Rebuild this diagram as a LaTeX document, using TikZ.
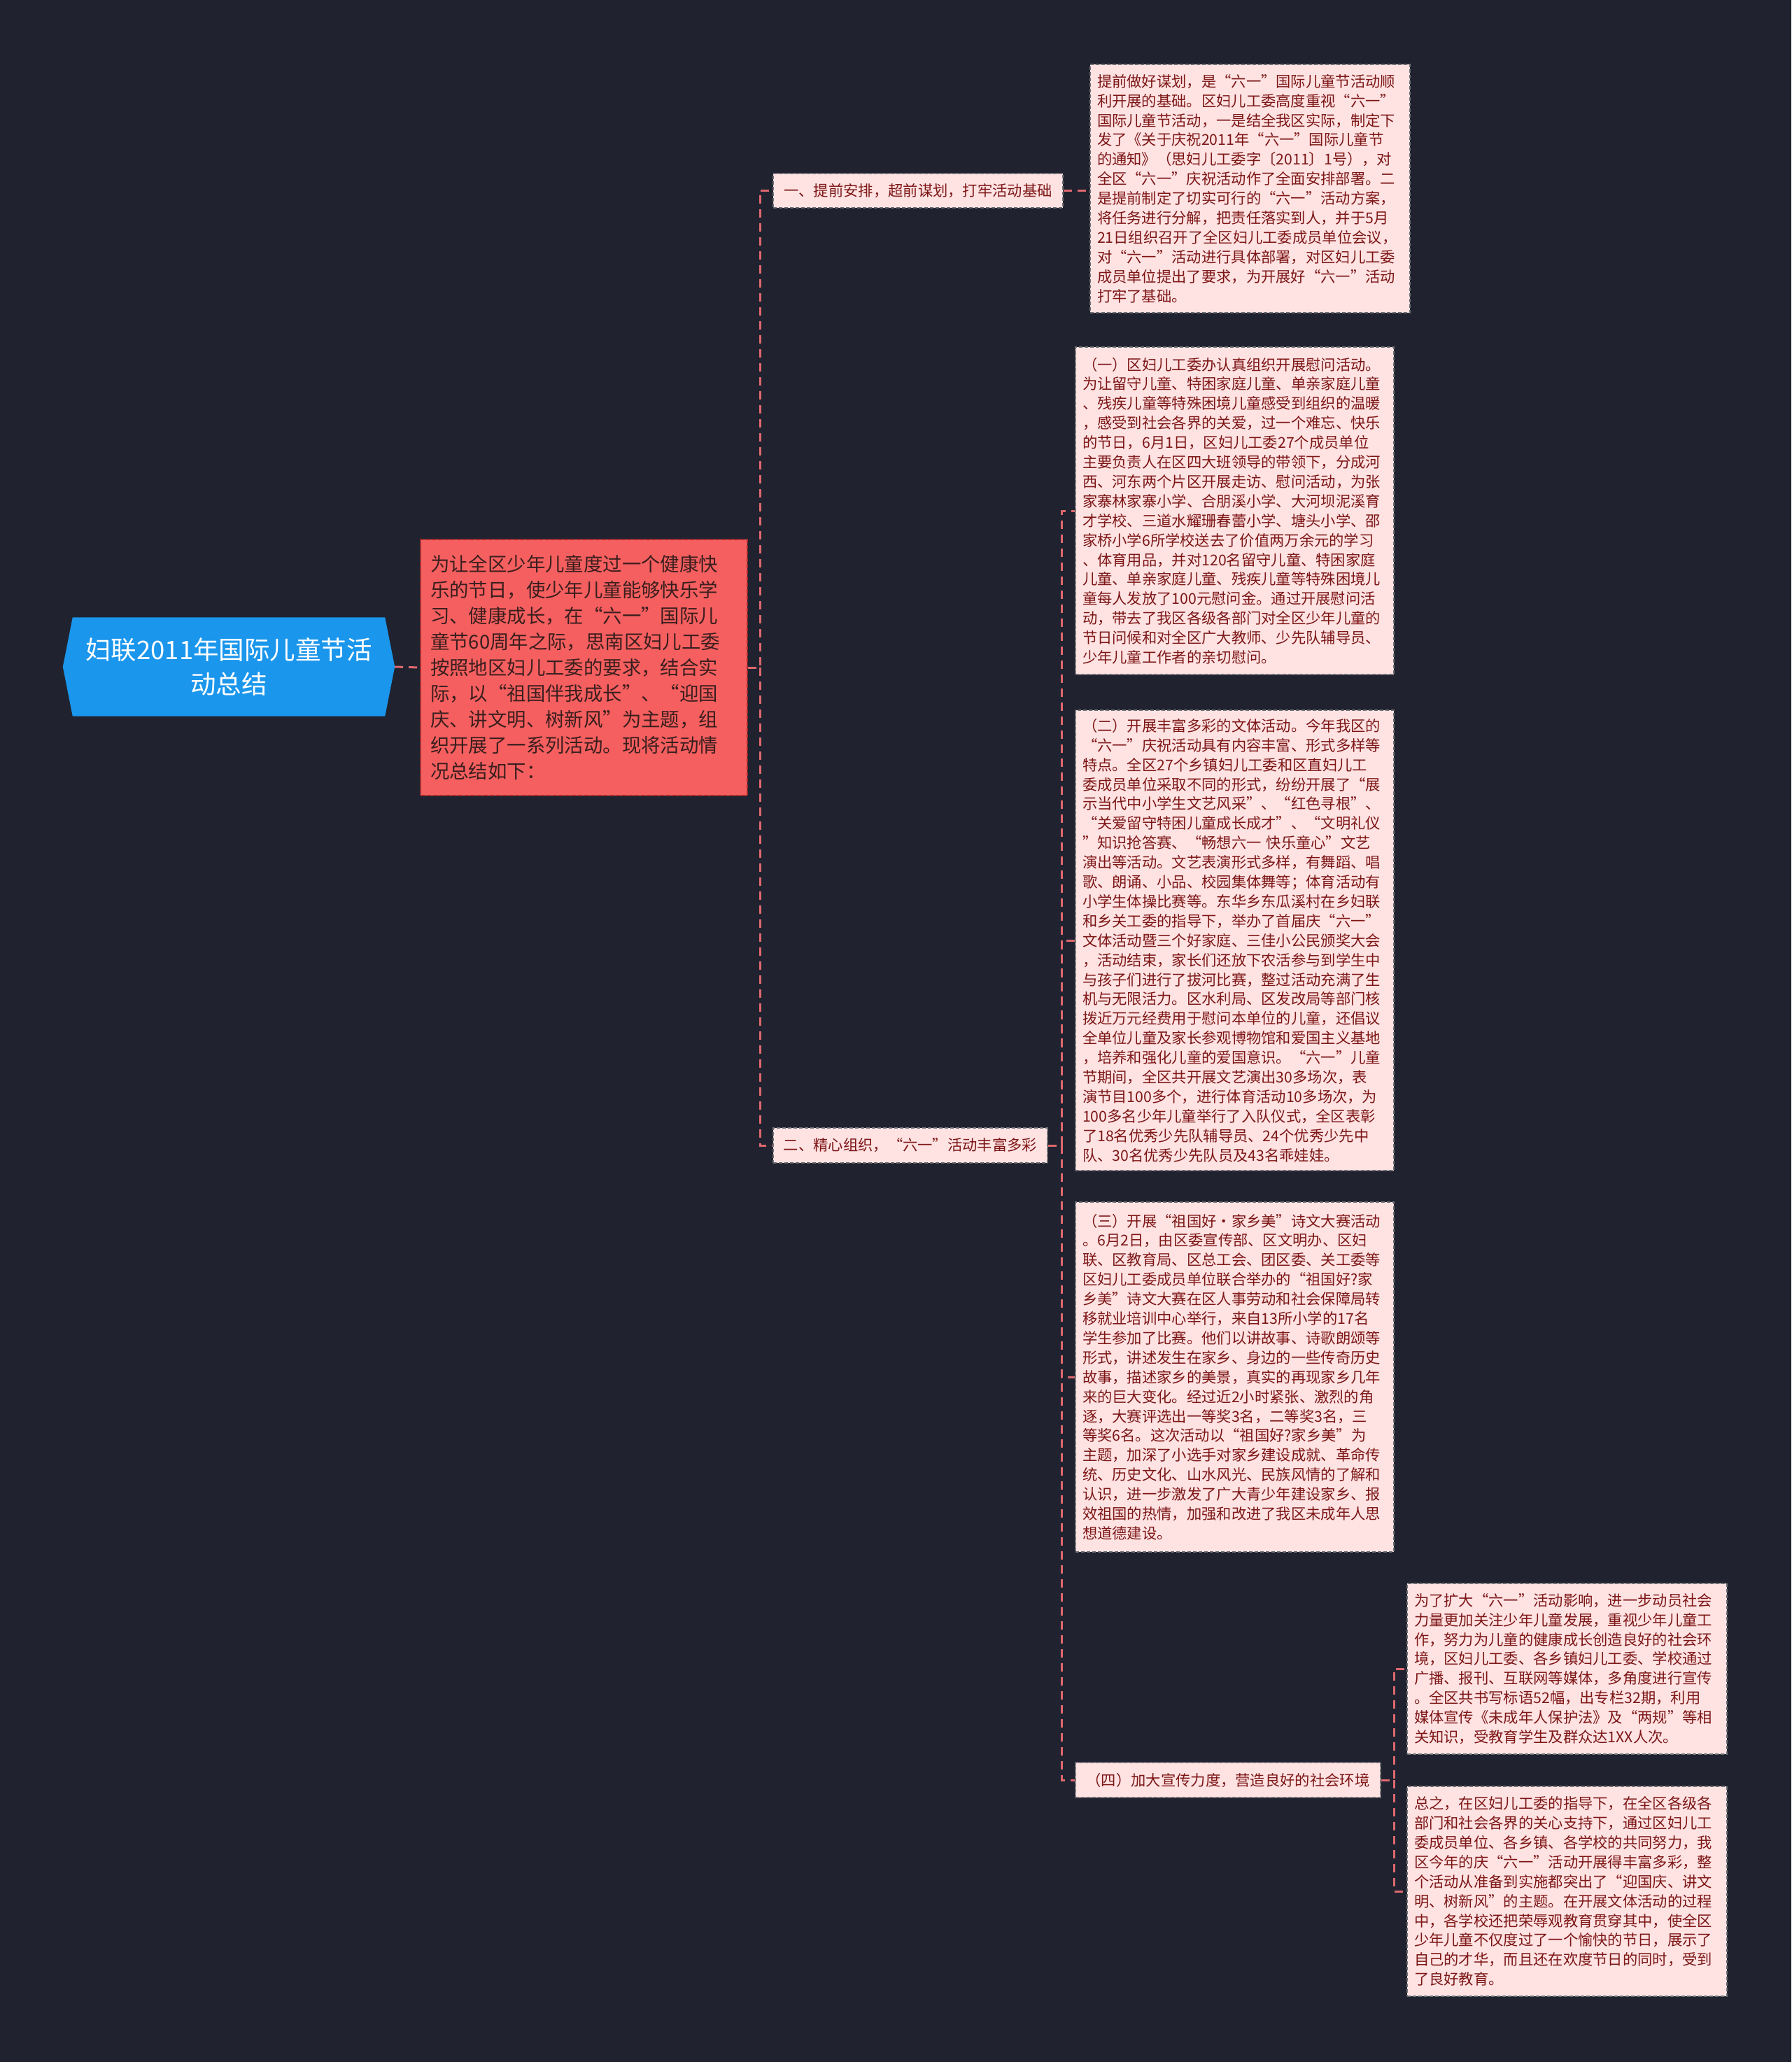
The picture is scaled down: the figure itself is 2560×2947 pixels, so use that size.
\documentclass[tikz,border=0pt]{standalone}
\usepackage{fontspec}
\setmainfont{Noto Sans CJK SC}
\usetikzlibrary{backgrounds,calc}
\definecolor{bgc}{RGB}{32,35,47}
\definecolor{pinkfill}{RGB}{255,227,227}
\definecolor{pinktext}{RGB}{125,22,22}
\definecolor{redfill}{RGB}{245,95,95}
\definecolor{redborder}{RGB}{170,40,40}
\definecolor{redtext}{RGB}{58,30,30}
\definecolor{rootblue}{RGB}{26,150,236}
\definecolor{linec}{RGB}{222,104,110}
\definecolor{boxborder}{RGB}{110,110,115}
\begin{document}
\begin{tikzpicture}[x=1pt,y=-1pt,
  conn/.style={draw=linec, line width=3pt, dash pattern=on 12pt off 8pt},
  pbox/.style={rectangle, fill=pinkfill, draw=boxborder, line width=1.6pt, dash pattern=on 5pt off 3pt,
    text=pinktext, align=left, inner xsep=10pt, inner ysep=6pt,
    font=\fontsize{21.3pt}{27.9pt}\selectfont},
  lbox/.style={pbox, align=center},
  redbox/.style={rectangle, fill=redfill, draw=redborder, line width=1.8pt, dash pattern=on 6pt off 3pt,
    text=redtext, align=left, inner xsep=14pt, inner ysep=8pt,
    font=\fontsize{27.4pt}{37.1pt}\selectfont},
  rootbox/.style={rectangle, text=white, align=center, inner sep=0pt,
    font=\fontsize{36.5pt}{49pt}\selectfont}
]
\useasboundingbox (0,0) rectangle (2560,2947);
\begin{scope}[on background layer]
\fill[bgc] (0,0) rectangle (2560,2947);
\end{scope}

% root
\node[rootbox, minimum width=474pt, minimum height=141pt, text width=440pt] (root) at (327,953)
  {妇联2011年国际儿童节活\\动总结};
\begin{scope}[on background layer]
\fill[rootblue] (root.west) -- ($(root.north west)+(14,0)$) -- ($(root.north east)+(-14,0)$)
  -- (root.east) -- ($(root.south east)+(-14,0)$) -- ($(root.south west)+(14,0)$) -- cycle;
\end{scope}

% red summary node
\node[redbox, minimum width=467pt, minimum height=366pt, text width=439pt] (red) at (834.5,954)
{为让全区少年儿童度过一个健康快\\
乐的节日，使少年儿童能够快乐学\\
习、健康成长，在“六一”国际儿\\
童节60周年之际，思南区妇儿工委\\
按照地区妇儿工委的要求，结合实\\
际，以“祖国伴我成长”、“迎国\\
庆、讲文明、树新风”为主题，组\\
织开展了一系列活动。现将活动情\\
况总结如下：};

% level 1
\node[lbox, minimum width=414pt, minimum height=49pt, text width=394pt] (n1) at (1312,272.5)
  {一、提前安排，超前谋划，打牢活动基础};
\node[lbox, minimum width=392pt, minimum height=50pt, text width=372pt] (n2) at (1301,1637)
  {二、精心组织，“六一”活动丰富多彩};

% T1
\node[pbox, minimum width=457pt, minimum height=355pt, text width=437pt] (t1) at (1786.5,269.5)
{提前做好谋划，是“六一”国际儿童节活动顺\\
利开展的基础。区妇儿工委高度重视“六一”\\
国际儿童节活动，一是结全我区实际，制定下\\
发了《关于庆祝2011年“六一”国际儿童节\\
的通知》（思妇儿工委字〔2011〕1号），对\\
全区“六一”庆祝活动作了全面安排部署。二\\
是提前制定了切实可行的“六一”活动方案，\\
将任务进行分解，把责任落实到人，并于5月\\
21日组织召开了全区妇儿工委成员单位会议，\\
对“六一”活动进行具体部署，对区妇儿工委\\
成员单位提出了要求，为开展好“六一”活动\\
打牢了基础。};

% B1
\node[pbox, minimum width=455pt, minimum height=468pt, text width=435pt] (b1) at (1764.5,730)
{（一）区妇儿工委办认真组织开展慰问活动。\\
为让留守儿童、特困家庭儿童、单亲家庭儿童\\
、残疾儿童等特殊困境儿童感受到组织的温暖\\
，感受到社会各界的关爱，过一个难忘、快乐\\
的节日，6月1日，区妇儿工委27个成员单位\\
主要负责人在区四大班领导的带领下，分成河\\
西、河东两个片区开展走访、慰问活动，为张\\
家寨林家寨小学、合朋溪小学、大河坝泥溪育\\
才学校、三道水耀珊春蕾小学、塘头小学、邵\\
家桥小学6所学校送去了价值两万余元的学习\\
、体育用品，并对120名留守儿童、特困家庭\\
儿童、单亲家庭儿童、残疾儿童等特殊困境儿\\
童每人发放了100元慰问金。通过开展慰问活\\
动，带去了我区各级各部门对全区少年儿童的\\
节日问候和对全区广大教师、少先队辅导员、\\
少年儿童工作者的亲切慰问。};

% B2
\node[pbox, minimum width=455pt, minimum height=658pt, text width=435pt] (b2) at (1764.5,1344)
{（二）开展丰富多彩的文体活动。今年我区的\\
“六一”庆祝活动具有内容丰富、形式多样等\\
特点。全区27个乡镇妇儿工委和区直妇儿工\\
委成员单位采取不同的形式，纷纷开展了“展\\
示当代中小学生文艺风采”、“红色寻根”、\\
“关爱留守特困儿童成长成才”、“文明礼仪\\
”知识抢答赛、“畅想六一\ 快乐童心”文艺\\
演出等活动。文艺表演形式多样，有舞蹈、唱\\
歌、朗诵、小品、校园集体舞等；体育活动有\\
小学生体操比赛等。东华乡东瓜溪村在乡妇联\\
和乡关工委的指导下，举办了首届庆“六一”\\
文体活动暨三个好家庭、三佳小公民颁奖大会\\
，活动结束，家长们还放下农活参与到学生中\\
与孩子们进行了拔河比赛，整过活动充满了生\\
机与无限活力。区水利局、区发改局等部门核\\
拨近万元经费用于慰问本单位的儿童，还倡议\\
全单位儿童及家长参观博物馆和爱国主义基地\\
，培养和强化儿童的爱国意识。“六一”儿童\\
节期间，全区共开展文艺演出30多场次，表\\
演节目100多个，进行体育活动10多场次，为\\
100多名少年儿童举行了入队仪式，全区表彰\\
了18名优秀少先队辅导员、24个优秀少先中\\
队、30名优秀少先队员及43名乖娃娃。};

% B3
\node[pbox, minimum width=455pt, minimum height=500pt, text width=435pt] (b3) at (1764.5,1968)
{（三）开展“祖国好·家乡美”诗文大赛活动\\
。6月2日，由区委宣传部、区文明办、区妇\\
联、区教育局、区总工会、团区委、关工委等\\
区妇儿工委成员单位联合举办的“祖国好?家\\
乡美”诗文大赛在区人事劳动和社会保障局转\\
移就业培训中心举行，来自13所小学的17名\\
学生参加了比赛。他们以讲故事、诗歌朗颂等\\
形式，讲述发生在家乡、身边的一些传奇历史\\
故事，描述家乡的美景，真实的再现家乡几年\\
来的巨大变化。经过近2小时紧张、激烈的角\\
逐，大赛评选出一等奖3名，二等奖3名，三\\
等奖6名。这次活动以“祖国好?家乡美”为\\
主题，加深了小选手对家乡建设成就、革命传\\
统、历史文化、山水风光、民族风情的了解和\\
认识，进一步激发了广大青少年建设家乡、报\\
效祖国的热情，加强和改进了我区未成年人思\\
想道德建设。};

% n4
\node[lbox, minimum width=436pt, minimum height=50pt, text width=416pt] (n4) at (1755,2544)
  {（四）加大宣传力度，营造良好的社会环境};

% R1, R2
\node[pbox, minimum width=457pt, minimum height=244pt, text width=437pt] (r1) at (2239.5,2385)
{为了扩大“六一”活动影响，进一步动员社会\\
力量更加关注少年儿童发展，重视少年儿童工\\
作，努力为儿童的健康成长创造良好的社会环\\
境，区妇儿工委、各乡镇妇儿工委、学校通过\\
广播、报刊、互联网等媒体，多角度进行宣传\\
。全区共书写标语52幅，出专栏32期，利用\\
媒体宣传《未成年人保护法》及“两规”等相\\
关知识，受教育学生及群众达1XX人次。};
\node[pbox, minimum width=457pt, minimum height=300pt, text width=437pt] (r2) at (2239.5,2703)
{总之，在区妇儿工委的指导下，在全区各级各\\
部门和社会各界的关心支持下，通过区妇儿工\\
委成员单位、各乡镇、各学校的共同努力，我\\
区今年的庆“六一”活动开展得丰富多彩，整\\
个活动从准备到实施都突出了“迎国庆、讲文\\
明、树新风”的主题。在开展文体活动的过程\\
中，各学校还把荣辱观教育贯穿其中，使全区\\
少年儿童不仅度过了一个愉快的节日，展示了\\
自己的才华，而且还在欢度节日的同时，受到\\
了良好教育。};

% junctions
\coordinate (j1) at (1086,954);
\coordinate (j2) at (1517,1637);
\coordinate (j3) at (1992,2544);

% connectors
\begin{scope}[on background layer]
\draw[conn] (root.east) -- (red.west);
\draw[conn] (red.east) -- (j1) |- (n1.west);
\draw[conn] (j1) |- (n2.west);
\draw[conn] (n1.east) -- (n1.east -| t1.west);
\draw[conn] (n2.east) -- (j2) |- (b1.west);
\draw[conn] (j2) |- (b2.west);
\draw[conn] (j2) |- (b3.west);
\draw[conn] (j2) |- (n4.west);
\draw[conn] (n4.east) -- (j3) |- (r1.west);
\draw[conn] (j3) |- (r2.west);
\end{scope}
\end{tikzpicture}
\end{document}
